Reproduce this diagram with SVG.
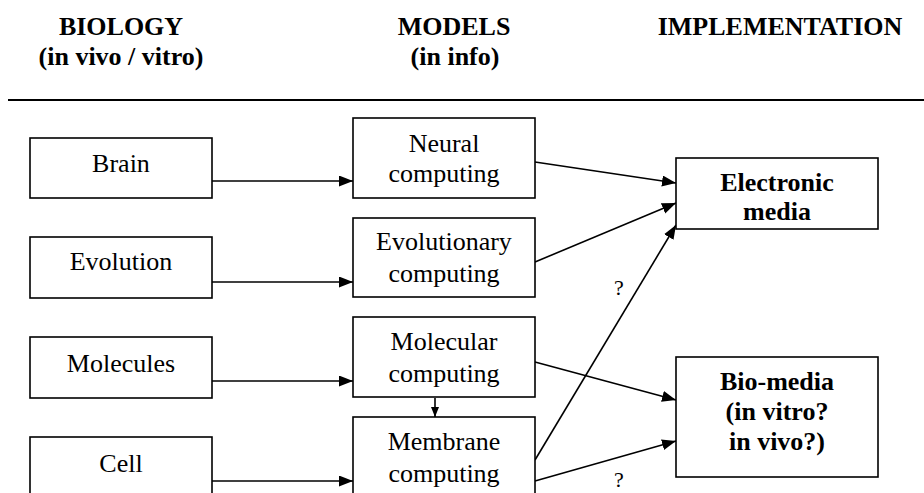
<svg xmlns="http://www.w3.org/2000/svg" width="924" height="493" viewBox="0 0 924 493">
<style>
.box{fill:#fff;stroke:#000;stroke-width:1.6}
.t{font-family:"Liberation Serif","Times New Roman",serif;font-size:26px;text-anchor:middle;fill:#000}
.b{font-weight:bold}
.h{font-family:"Liberation Serif","Times New Roman",serif;font-size:26px;font-weight:bold;text-anchor:middle;fill:#000}
.c{stroke:#000;stroke-width:1.6;fill:none}
.q{font-family:"Liberation Serif","Times New Roman",serif;font-size:22px;text-anchor:middle;fill:#000}
</style>
<defs>
<marker id="ah" markerUnits="userSpaceOnUse" markerWidth="15" markerHeight="12" refX="14" refY="5.5" orient="auto">
<path d="M0,0 L14,5.5 L0,11 z" fill="#000"/>
</marker>
<marker id="ahs" markerUnits="userSpaceOnUse" markerWidth="11" markerHeight="9" refX="10" refY="4" orient="auto">
<path d="M0,0 L10,4 L0,8 z" fill="#000"/>
</marker>
</defs>
<rect width="924" height="493" fill="#fff"/>
<g id="headers">
<text class="h" x="121" y="35">BIOLOGY</text>
<text class="h" x="121" y="65">(in vivo / vitro)</text>
<text class="h" x="454" y="35">MODELS</text>
<text class="h" x="455" y="65">(in info)</text>
<text class="h" x="780" y="35">IMPLEMENTATION</text>
<line x1="8" y1="100" x2="924" y2="100" stroke="#000" stroke-width="2.2"/>
</g>
<g id="connectors">
<line class="c" x1="212" y1="181" x2="353" y2="181" marker-end="url(#ah)"/>
<line class="c" x1="212" y1="282" x2="353" y2="282" marker-end="url(#ah)"/>
<line class="c" x1="212" y1="381" x2="353" y2="381" marker-end="url(#ah)"/>
<line class="c" x1="212" y1="481" x2="353" y2="481" marker-end="url(#ah)"/>
<line class="c" x1="435" y1="398" x2="435" y2="417" marker-end="url(#ahs)"/>
<line class="c" x1="535" y1="162" x2="676" y2="183" marker-end="url(#ah)"/>
<line class="c" x1="535" y1="262" x2="676" y2="203" marker-end="url(#ah)"/>
<line class="c" x1="535" y1="460" x2="676" y2="225" marker-end="url(#ah)"/>
<line class="c" x1="535" y1="362" x2="676" y2="400" marker-end="url(#ah)"/>
<line class="c" x1="535" y1="481" x2="676" y2="441" marker-end="url(#ah)"/>
<text class="q" x="619" y="295">?</text>
<text class="q" x="619" y="487" font-size="20">?</text>
</g>
<g id="brain"><rect class="box" x="30" y="138" width="182" height="60"/><text class="t" x="121" y="172">Brain</text></g>
<g id="evolution"><rect class="box" x="30" y="237" width="182" height="61"/><text class="t" x="121" y="270">Evolution</text></g>
<g id="molecules"><rect class="box" x="30" y="337" width="182" height="61"/><text class="t" x="121" y="372">Molecules</text></g>
<g id="cell"><rect class="box" x="30" y="437" width="182" height="70"/><text class="t" x="121" y="472">Cell</text></g>
<g id="neural"><rect class="box" x="353" y="118" width="182" height="80"/><text class="t" x="444" y="152">Neural</text><text class="t" x="444" y="182">computing</text></g>
<g id="evolutionary"><rect class="box" x="353" y="218" width="182" height="79"/><text class="t" x="444" y="250">Evolutionary</text><text class="t" x="444" y="282">computing</text></g>
<g id="molecular"><rect class="box" x="353" y="317" width="182" height="80"/><text class="t" x="444" y="350">Molecular</text><text class="t" x="444" y="382">computing</text></g>
<g id="membrane"><rect class="box" x="353" y="417" width="182" height="90"/><text class="t" x="444" y="450">Membrane</text><text class="t" x="444" y="482">computing</text></g>
<g id="electronic"><rect class="box" x="676" y="158" width="202" height="71"/><text class="t b" x="777" y="191">Electronic</text><text class="t b" x="777" y="220">media</text></g>
<g id="biomedia"><rect class="box" x="676" y="357" width="202" height="120"/><text class="t b" x="777" y="390">Bio-media</text><text class="t b" x="777" y="420">(in vitro?</text><text class="t b" x="777" y="450">in vivo?)</text></g>
</svg>
